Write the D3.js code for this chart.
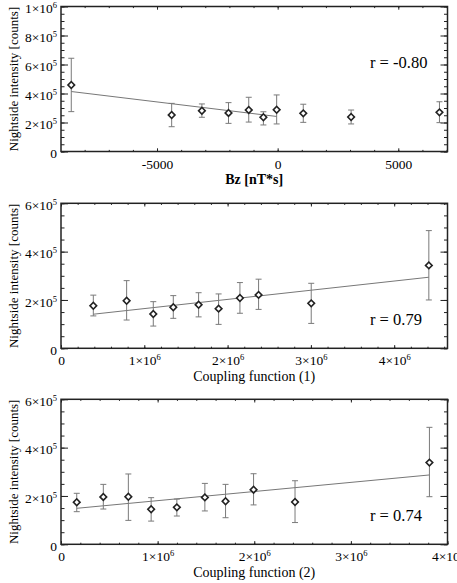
<!DOCTYPE html>
<html>
  <head>
    <meta charset="utf-8" />
    <script src="https://d3js.org/d3.v7.min.js"></script>
    <style>
      body { margin: 0; background: #fff; }
      svg { display: block; }
      text { font-family: "Liberation Serif", "DejaVu Serif", serif; fill: #000; }
      .frame { fill: none; stroke: #222; stroke-width: 1.5; }
      .axis path { display: none; }
      .axis line { stroke: #222; stroke-width: 1; }
      .err { stroke: #7a7a7a; stroke-width: 1; fill: none; }
      .fit { stroke: #777; stroke-width: 1; fill: none; }
      .pt { fill: #fff; stroke: #222; stroke-width: 1.6; }
    </style>
  </head>
  <body>
    <svg width="457" height="583"></svg>
    <script>
      // ---- data ----
      // panel 1: Bz
      const bz = [-8554, -4393, -3140, -2037, -1198, -591, -41, 1062, 3045, 6707];
      const bzInt = [4.59e5, 2.52e5, 2.81e5, 2.66e5, 2.86e5, 2.36e5, 2.88e5, 2.63e5, 2.38e5, 2.70e5];
      const bzHi = [6.43e5, 3.32e5, 3.28e5, 3.37e5, 3.74e5, 2.74e5, 3.90e5, 3.26e5, 2.86e5, 3.43e5];
      const bzLo = [2.75e5, 1.71e5, 2.36e5, 1.94e5, 2.03e5, 1.83e5, 1.90e5, 2.01e5, 1.90e5, 1.99e5];
      const bzFitRange = [-8554, -41];
      const bzFitCoef = [2.408e5, -20.2];

      // panel 2: coupling function (1)
      const cf1 = [0.388e6, 0.788e6, 1.108e6, 1.348e6, 1.652e6, 1.892e6, 2.148e6, 2.372e6, 3.004e6, 4.416e6];
      const cf1Int = [1.76e5, 1.97e5, 1.42e5, 1.70e5, 1.80e5, 1.64e5, 2.08e5, 2.21e5, 1.86e5, 3.43e5];
      const cf1Hi = [2.20e5, 2.80e5, 1.93e5, 2.18e5, 2.30e5, 2.25e5, 2.72e5, 2.86e5, 2.69e5, 4.87e5];
      const cf1Lo = [1.34e5, 1.17e5, 0.92e5, 1.24e5, 1.30e5, 0.99e5, 1.45e5, 1.61e5, 1.03e5, 2.00e5];
      const cf1FitRange = [0.388e6, 4.416e6];
      const cf1FitCoef = [1.263e5, 0.038];

      // panel 3: coupling function (2)
      const cf2 = [0.163e6, 0.438e6, 0.697e6, 0.933e6, 1.199e6, 1.489e6, 1.703e6, 1.993e6, 2.422e6, 3.813e6];
      const cf2Int = [1.74e5, 1.96e5, 1.97e5, 1.45e5, 1.53e5, 1.94e5, 1.78e5, 2.26e5, 1.75e5, 3.38e5];
      const cf2Hi = [2.11e5, 2.48e5, 2.91e5, 1.93e5, 1.87e5, 2.52e5, 2.48e5, 2.92e5, 2.63e5, 4.84e5];
      const cf2Lo = [1.35e5, 1.46e5, 0.99e5, 0.96e5, 1.17e5, 1.38e5, 1.10e5, 1.63e5, 0.90e5, 1.97e5];
      const cf2FitRange = [0.163e6, 3.813e6];
      const cf2FitCoef = [1.428e5, 0.0378];

      const yTitle = "Nightside intensity [counts]";
      const panels = [
        {
          top: 6.5, x: bz, y: bzInt, hi: bzHi, lo: bzLo,
          fitRange: bzFitRange, fitCoef: bzFitCoef,
          xDomain: [-8980, 7040], xMajor: [-5000, 0, 5000], xMinorStep: 1000,
          yDomain: [0, 1e6], yMajor: [0, 2e5, 4e5, 6e5, 8e5, 1e6],
          xTitle: "Bz [nT*s]", bold: true, r: "r = -0.80", rY: 67.5, sci: false,
        },
        {
          top: 203.3, x: cf1, y: cf1Int, hi: cf1Hi, lo: cf1Lo,
          fitRange: cf1FitRange, fitCoef: cf1FitCoef,
          xDomain: [0, 4.64e6], xMajor: [0, 1e6, 2e6, 3e6, 4e6], xMinorStep: 2e5,
          yDomain: [0, 6e5], yMajor: [0, 2e5, 4e5, 6e5],
          xTitle: "Coupling function (1)", bold: false, r: "r = 0.79", rY: 325, sci: true,
        },
        {
          top: 399.3, x: cf2, y: cf2Int, hi: cf2Hi, lo: cf2Lo,
          fitRange: cf2FitRange, fitCoef: cf2FitCoef,
          xDomain: [0, 4.0e6], xMajor: [0, 1e6, 2e6, 3e6, 4e6], xMinorStep: 2e5,
          yDomain: [0, 6e5], yMajor: [0, 2e5, 4e5, 6e5],
          xTitle: "Coupling function (2)", bold: false, r: "r = 0.74", rY: 520.5, sci: true,
        },
      ];

      const svg = d3.select("svg");
      const left = 61, right = 447.5, ph = 145;

      // write a×10^b with a real superscript
      function sciLabel(sel, v) {
        sel.text(null);
        if (v === 0) { sel.text("0"); return; }
        const e = Math.floor(Math.log10(Math.abs(v)) + 1e-9);
        const m = Math.round(v / Math.pow(10, e));
        sel.append("tspan").text(m + "\u00d710");
        sel.append("tspan").attr("dy", -5).attr("font-size", 8.5).text(e);
      }

      function range(a, b, step) {
        const out = [];
        for (let v = Math.ceil(a / step) * step; v <= b + 1e-6; v += step) out.push(v);
        return out;
      }

      panels.forEach((p) => {
        const x = d3.scaleLinear().domain(p.xDomain).range([left, right]);
        const y = d3.scaleLinear().domain(p.yDomain).range([p.top + ph, p.top]);
        const g = svg.append("g");
        const bottom = p.top + ph;

        const xMinor = range(p.xDomain[0], p.xDomain[1], p.xMinorStep);
        const yMinor = range(p.yDomain[0], p.yDomain[1], 5e4);

        // minor ticks
        g.append("g").attr("class", "axis").attr("transform", `translate(0,${bottom})`)
          .call(d3.axisBottom(x).tickValues(xMinor).tickSize(-1.6).tickFormat(""));
        g.append("g").attr("class", "axis").attr("transform", `translate(0,${p.top})`)
          .call(d3.axisTop(x).tickValues(xMinor).tickSize(-1.6).tickFormat(""));
        g.append("g").attr("class", "axis").attr("transform", `translate(${left},0)`)
          .call(d3.axisLeft(y).tickValues(yMinor).tickSize(-3.5).tickFormat(""));
        g.append("g").attr("class", "axis").attr("transform", `translate(${right},0)`)
          .call(d3.axisRight(y).tickValues(yMinor).tickSize(-3.5).tickFormat(""));

        // major ticks + labels
        const xb = g.append("g").attr("class", "axis").attr("transform", `translate(0,${bottom})`)
          .call(d3.axisBottom(x).tickValues(p.xMajor).tickSize(-3.2).tickPadding(6));
        g.append("g").attr("class", "axis").attr("transform", `translate(0,${p.top})`)
          .call(d3.axisTop(x).tickValues(p.xMajor).tickSize(-3.2).tickFormat(""));
        const yl = g.append("g").attr("class", "axis").attr("transform", `translate(${left},0)`)
          .call(d3.axisLeft(y).tickValues(p.yMajor).tickSize(-7).tickPadding(4));
        g.append("g").attr("class", "axis").attr("transform", `translate(${right},0)`)
          .call(d3.axisRight(y).tickValues(p.yMajor).tickSize(-7).tickFormat(""));

        xb.selectAll("text")
          .attr("font-size", 13.5)
          .attr("y", 17).attr("dy", null)
          .each(function (v) {
            const t = d3.select(this);
            if (p.sci) sciLabel(t, v); else t.text(String(v));
          });
        yl.selectAll("text")
          .attr("font-size", 13.5)
          .attr("dy", "0.45em")
          .each(function (v) { sciLabel(d3.select(this), v); });

        // frame
        g.append("rect").attr("class", "frame")
          .attr("x", left).attr("y", p.top).attr("width", right - left).attr("height", ph);

        // fit line
        const fx = p.fitRange;
        g.append("line").attr("class", "fit")
          .attr("x1", x(fx[0])).attr("y1", y(p.fitCoef[0] + p.fitCoef[1] * fx[0]))
          .attr("x2", x(fx[1])).attr("y2", y(p.fitCoef[0] + p.fitCoef[1] * fx[1]));

        // error bars
        p.x.forEach((xv, i) => {
          const cx = x(xv);
          const eg = g.append("g").attr("class", "err");
          eg.append("line").attr("x1", cx).attr("x2", cx).attr("y1", y(p.hi[i])).attr("y2", y(p.lo[i]));
          eg.append("line").attr("x1", cx - 3).attr("x2", cx + 3).attr("y1", y(p.hi[i])).attr("y2", y(p.hi[i]));
          eg.append("line").attr("x1", cx - 3).attr("x2", cx + 3).attr("y1", y(p.lo[i])).attr("y2", y(p.lo[i]));
        });

        // diamonds
        g.selectAll(".pt").data(p.x).enter().append("path")
          .attr("class", "pt")
          .attr("d", d3.symbol().type(d3.symbolSquare).size(22))
          .attr("transform", (d, i) => `translate(${x(d)},${y(p.y[i])}) rotate(45)`);

        // titles
        g.append("text")
          .attr("x", (left + right) / 2).attr("y", bottom + 32.5)
          .attr("text-anchor", "middle").attr("font-size", 14)
          .attr("font-weight", p.bold ? "bold" : "normal")
          .text(p.xTitle);
        g.append("text")
          .attr("transform", `translate(17.5,${p.top + ph / 2}) rotate(-90)`)
          .attr("text-anchor", "middle").attr("font-size", 13)
          .text(yTitle);
        g.append("text")
          .attr("x", 370).attr("y", p.rY).attr("font-size", 16.5)
          .text(p.r);
      });
    </script>
  </body>
</html>
